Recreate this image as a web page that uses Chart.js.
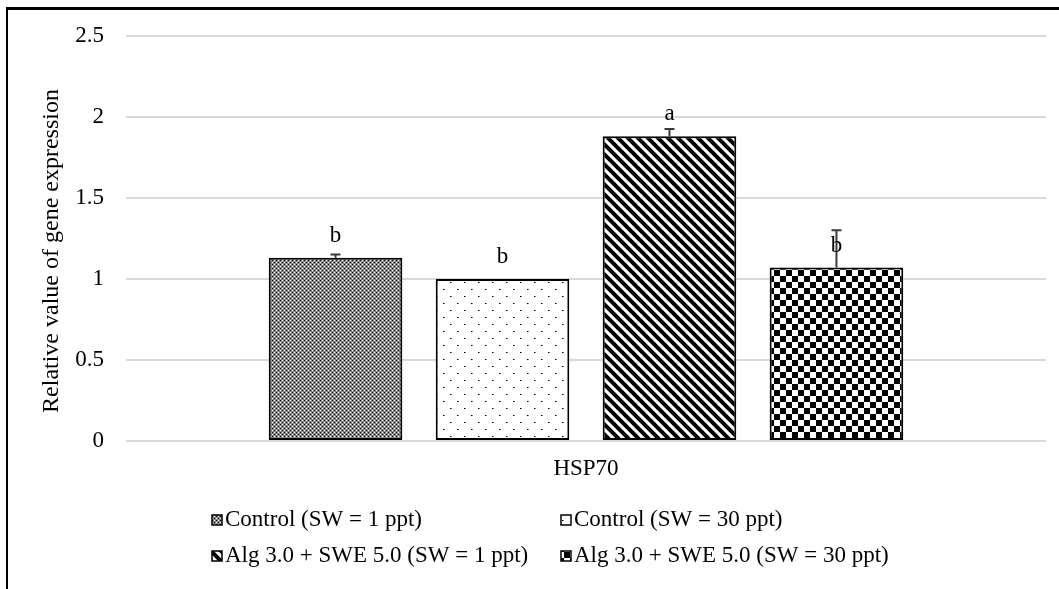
<!DOCTYPE html>
<html><head><meta charset="utf-8">
<script src="https://cdn.jsdelivr.net/npm/chart.js@4.4.0/dist/chart.umd.min.js"></script>
<style>
html,body{margin:0;padding:0;background:#fff;overflow:hidden}
#wrap{position:relative;width:1059px;height:589px}
#frame{position:absolute;left:6px;top:7px;width:1100px;height:700px;border-left:2px solid #000;border-top:3px solid #000;box-sizing:border-box}
canvas{position:absolute;left:0;top:0}
</style></head><body>
<div id="wrap"><div id="frame"></div><canvas id="c" width="1059" height="589"></canvas></div>
<script>
// ---- data ----
const categories = ['HSP70'];
const seriesNames = ['Control (SW = 1 ppt)', 'Control (SW = 30 ppt)', 'Alg 3.0 + SWE 5.0 (SW = 1 ppt)', 'Alg 3.0 + SWE 5.0 (SW = 30 ppt)'];
const controlSW1 = [1.13];
const controlSW30 = [1.00];
const algSW1 = [1.88];
const algSW30 = [1.07];
const errControlSW1 = [0.02];
const errControlSW30 = [0.0];
const errAlgSW1 = [0.045];
const errAlgSW30 = [0.23];
const sigLetters = ['b', 'b', 'a', 'b'];
const yTicks = [0, 0.5, 1, 1.5, 2, 2.5];
const yTickLabels = ['0', '0.5', '1', '1.5', '2', '2.5'];
const yTitle = 'Relative value of gene expression';

const FONT = "'Liberation Serif', 'Times New Roman', serif";
const FS = 23;

function makePattern(w, h, draw) {
  const c = document.createElement('canvas');
  c.width = w; c.height = h;
  const g = c.getContext('2d');
  g.fillStyle = '#fff'; g.fillRect(0, 0, w, h);
  draw(g);
  return document.createElement('canvas').getContext('2d').createPattern(c, 'repeat');
}
const pDense = makePattern(4, 4, g => {
  g.fillStyle = '#8a8a8a';
  g.fillRect(0, 1, 4, 1); g.fillRect(0, 3, 4, 1); g.fillRect(1, 0, 1, 4); g.fillRect(3, 0, 1, 4);
  g.fillStyle = '#000'; g.fillRect(0, 0, 1, 1); g.fillRect(2, 2, 1, 1);
  g.fillStyle = '#fff'; g.fillRect(2, 0, 1, 1); g.fillRect(0, 2, 1, 1);
});
const pDots = makePattern(14, 14, g => {
  g.fillStyle = '#000'; g.fillRect(2, 2, 1, 1); g.fillRect(9, 9, 1, 1);
  g.fillStyle = '#777'; g.fillRect(3, 2, 1, 1); g.fillRect(10, 9, 1, 1);
});
const pDiag = makePattern(10, 10, g => {
  g.strokeStyle = '#000'; g.lineWidth = 4;
  g.beginPath();
  g.moveTo(-5, -5); g.lineTo(15, 15);
  g.moveTo(-5, 5); g.lineTo(5, 15);
  g.moveTo(5, -5); g.lineTo(15, 5);
  g.stroke();
});
const pCheck = makePattern(12, 12, g => {
  g.fillStyle = '#000'; g.fillRect(0, 0, 6, 6); g.fillRect(6, 6, 6, 6);
});
const patterns = [pDense, pDots, pDiag, pCheck];
const seriesValues = [controlSW1, controlSW30, algSW1, algSW30];
const seriesErrors = [errControlSW1, errControlSW30, errAlgSW1, errAlgSW30];

const datasets = seriesNames.map((n, i) => ({
  label: n,
  data: seriesValues[i],
  errors: seriesErrors[i],
  letter: sigLetters[i],
  backgroundColor: patterns[i],
  borderColor: '#000',
  borderWidth: 2,
  borderSkipped: false,
  categoryPercentage: 0.726,
  barPercentage: 0.8
}));

const extras = {
  id: 'extras',
  afterDatasetsDraw(chart) {
    const ctx = chart.ctx;
    const y = chart.scales.y;
    chart.data.datasets.forEach((ds, i) => {
      const meta = chart.getDatasetMeta(i);
      meta.data.forEach((bar, j) => {
        const v = ds.data[j], e = ds.errors[j];
        const yTop = bar.y;
        if (e > 0) {
          const ye = y.getPixelForValue(v + e);
          ctx.save();
          ctx.strokeStyle = '#3a3a3a'; ctx.lineWidth = 2;
          ctx.beginPath();
          ctx.moveTo(bar.x, yTop); ctx.lineTo(bar.x, ye);
          ctx.moveTo(bar.x - 5, ye); ctx.lineTo(bar.x + 5, ye);
          ctx.stroke();
          ctx.restore();
        }
        ctx.save();
        ctx.fillStyle = '#000';
        ctx.font = FS + 'px ' + FONT;
        ctx.textAlign = 'center'; ctx.textBaseline = 'middle';
        ctx.fillText(ds.letter, bar.x, yTop - 22);
        ctx.restore();
      });
    });
  },
  afterDraw(chart) {
    const ctx = chart.ctx;
    // y-axis title
    ctx.save();
    ctx.translate(52, 251);
    ctx.rotate(-Math.PI / 2);
    ctx.fillStyle = '#000';
    ctx.font = '24px ' + FONT;
    ctx.textAlign = 'center'; ctx.textBaseline = 'middle';
    ctx.fillText(yTitle, 0, 0);
    ctx.restore();
    // legend
    const colX = [212, 561], rowY = [520, 556];
    chart.data.datasets.forEach((ds, i) => {
      const bx = colX[i % 2], cy = rowY[Math.floor(i / 2)];
      ctx.save();
      ctx.fillStyle = ds.backgroundColor;
      ctx.fillRect(bx, cy - 5, 10, 10);
      ctx.strokeStyle = '#000'; ctx.lineWidth = 1.5;
      ctx.strokeRect(bx, cy - 5, 10, 10);
      ctx.fillStyle = '#000';
      ctx.font = FS + 'px ' + FONT;
      ctx.textAlign = 'left'; ctx.textBaseline = 'middle';
      ctx.fillText(ds.label, bx + 13, cy);
      ctx.restore();
    });
  }
};

new Chart(document.getElementById('c'), {
  type: 'bar',
  data: { labels: categories, datasets },
  options: {
    responsive: false,
    animation: false,
    layout: { padding: { left: 0, top: 34, right: 13, bottom: 98 } },
    plugins: { legend: { display: false }, tooltip: { enabled: false } },
    scales: {
      x: {
        grid: { display: false, drawTicks: false },
        border: { display: false },
        ticks: { color: '#000', font: { family: FONT, size: FS }, padding: 14 },
        afterFit(s) { s.height = 50; }
      },
      y: {
        min: 0, max: 2.5,
        grid: { color: '#d9d9d9', lineWidth: 2, drawTicks: false },
        border: { display: false },
        ticks: {
          color: '#000', font: { family: FONT, size: FS }, padding: 22,
          callback: (v) => { const k = yTicks.indexOf(v); return k >= 0 ? yTickLabels[k] : ''; }
        },
        afterBuildTicks(s) { s.ticks = yTicks.map(v => ({ value: v })); },
        afterFit(s) { s.width = 126; }
      }
    }
  },
  plugins: [extras]
});
</script>
</body></html>
